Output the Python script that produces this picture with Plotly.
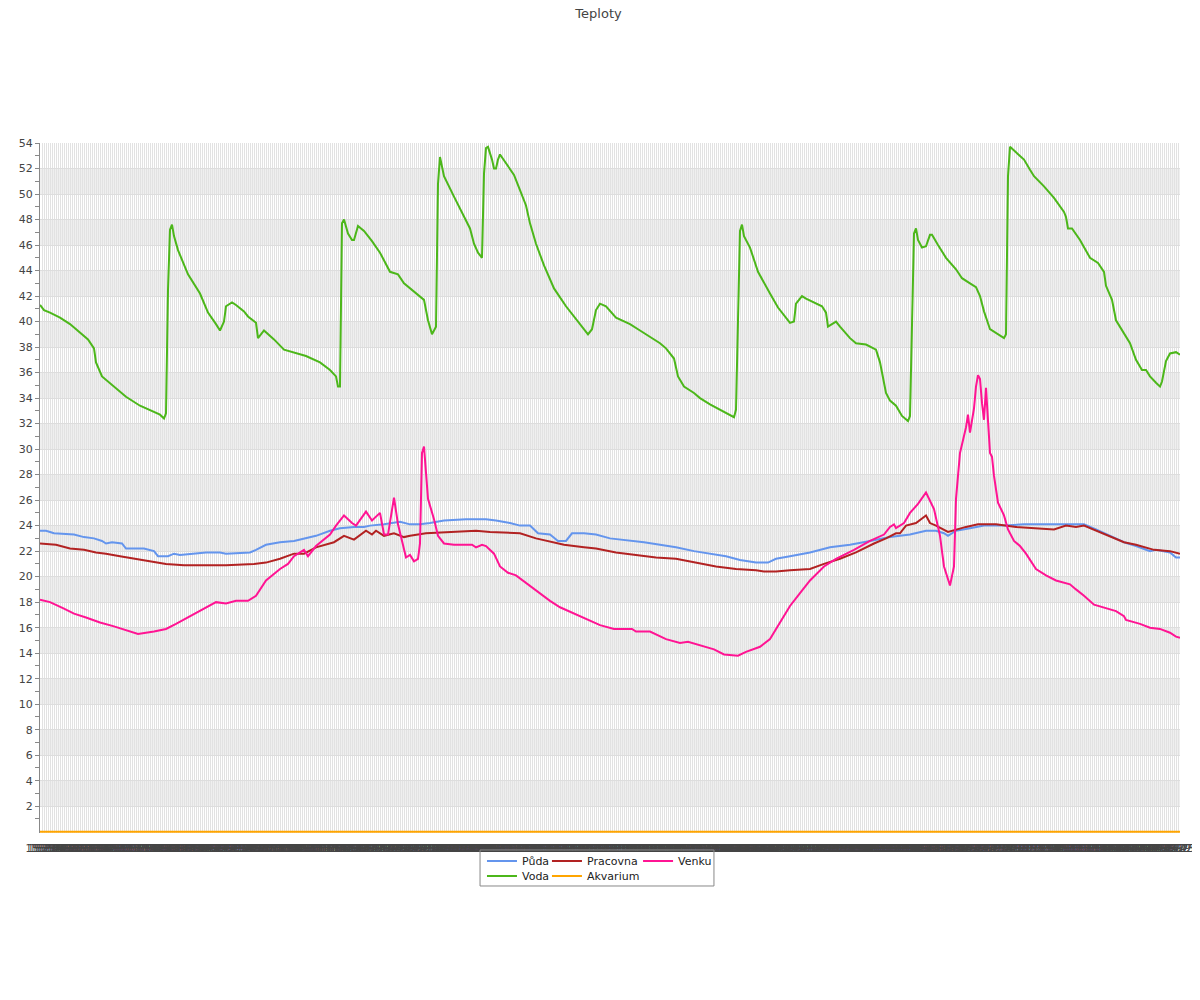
import plotly.graph_objects as go
import pandas as pd

# ---------------- data ----------------
time_labels = list(pd.date_range("2016-05-01 15:25", "2016-05-02 15:25", periods=571).strftime("%H:%M"))
sample_idx = list(range(len(time_labels)))

y_tick_vals = list(range(2, 55, 2))
y_minor_vals = list(range(1, 54, 2))
band_starts = list(range(2, 52, 4))

puda_x = [0, 3, 7, 17, 22, 27, 31, 33, 36, 41, 43, 52, 57, 59, 64, 67, 70, 77, 83, 90, 93, 105, 108, 113,
          120, 127, 132, 138, 145, 150, 157, 162, 165, 172, 180, 185, 190, 195, 202, 213, 223, 228, 235,
          240, 245, 249, 255, 259, 263, 266, 272, 278, 285, 292, 302, 310, 318, 327, 335, 343, 350, 358,
          364, 368, 375, 385, 395, 405, 415, 425, 435, 443, 448, 452, 454, 458, 465, 472, 482, 492, 508,
          522, 528, 535, 542, 548, 555, 558, 565, 568, 570]
puda_y = [23.6, 23.6, 23.4, 23.3, 23.1, 23.0, 22.8, 22.6, 22.7, 22.6, 22.2, 22.2, 22.0, 21.6, 21.6, 21.8,
          21.7, 21.8, 21.9, 21.9, 21.8, 21.9, 22.1, 22.5, 22.7, 22.8, 23.0, 23.2, 23.6, 23.8, 23.9, 23.9,
          24.0, 24.1, 24.3, 24.1, 24.1, 24.2, 24.4, 24.5, 24.5, 24.4, 24.2, 24.0, 24.0, 23.4, 23.3, 22.8,
          22.8, 23.4, 23.4, 23.3, 23.0, 22.9, 22.7, 22.5, 22.3, 22.0, 21.8, 21.6, 21.3, 21.1, 21.1, 21.4,
          21.6, 21.9, 22.3, 22.5, 22.8, 23.1, 23.3, 23.6, 23.6, 23.4, 23.2, 23.6, 23.8, 24.0, 24.0, 24.1,
          24.1, 24.1, 23.7, 23.2, 22.7, 22.4, 22.0, 22.1, 21.9, 21.5, 21.5]

pracovna_x = [0, 8, 15, 22, 28, 33, 40, 48, 57, 63, 72, 83, 93, 107, 113, 120, 127, 132, 138, 147, 152,
              157, 163, 166, 168, 172, 177, 182, 185, 193, 205, 218, 225, 240, 248, 257, 262, 272, 278,
              288, 298, 308, 318, 328, 338, 348, 358, 362, 368, 375, 385, 392, 400, 408, 417, 423, 428,
              430, 433, 438, 443, 445, 448, 454, 458, 463, 469, 478, 488, 498, 507, 513, 518, 522, 528,
              537, 542, 548, 557, 565, 570]
pracovna_y = [22.6, 22.5, 22.2, 22.1, 21.9, 21.8, 21.6, 21.4, 21.2, 21.0, 20.9, 20.9, 20.9, 21.0, 21.1,
              21.4, 21.8, 21.8, 22.3, 22.7, 23.2, 22.9, 23.6, 23.3, 23.6, 23.2, 23.4, 23.1, 23.2, 23.4,
              23.5, 23.6, 23.5, 23.4, 23.0, 22.7, 22.5, 22.3, 22.2, 21.9, 21.7, 21.5, 21.4, 21.1, 20.8,
              20.6, 20.5, 20.4, 20.4, 20.5, 20.6, 21.0, 21.4, 21.9, 22.6, 23.0, 23.4, 23.4, 24.0, 24.2,
              24.8, 24.2, 24.0, 23.5, 23.7, 23.9, 24.1, 24.1, 23.9, 23.8, 23.7, 24.0, 23.9, 24.0, 23.6,
              23.0, 22.7, 22.5, 22.1, 22.0, 21.8]

venku_x = [0, 5, 12, 17, 23, 30, 37, 43, 49, 57, 63, 68, 75, 82, 88, 93, 98, 104, 108, 113, 118, 120, 124,
           127, 132, 134, 138, 145, 148, 152, 156, 158, 163, 166, 170, 172, 174, 177, 179, 183, 185, 187,
           189, 190, 191, 192, 194, 197, 199, 202, 207, 216, 218, 221, 223, 227, 230, 234, 238, 243, 249,
           255, 260, 267, 273, 280, 287, 296, 298, 305, 313, 320, 324, 332, 337, 342, 349, 353, 360, 365,
           368, 372, 375, 380, 385, 392, 398, 407, 415, 422, 425, 427, 428, 432, 435, 439, 443, 447, 450,
           452, 455, 457, 458, 460, 462, 463, 464, 465, 467, 468, 469, 470, 471, 472, 473, 474, 475, 476,
           477, 479, 482, 484, 487, 490, 493, 498, 503, 508, 515, 518, 522, 527, 533, 538, 542, 543, 550,
           555, 560, 565, 568, 570]
venku_y = [18.2, 18.0, 17.5, 17.1, 16.8, 16.4, 16.1, 15.8, 15.5, 15.7, 15.9, 16.3, 16.9, 17.5, 18.0, 17.9,
           18.1, 18.1, 18.5, 19.7, 20.3, 20.6, 21.0, 21.6, 22.1, 21.6, 22.4, 23.3, 24.0, 24.8, 24.2, 24.0,
           25.1, 24.4, 25.0, 23.3, 23.3, 26.2, 24.1, 21.5, 21.7, 21.2, 21.4, 22.6, 29.7, 30.2, 26.1, 24.5,
           23.2, 22.6, 22.5, 22.5, 22.3, 22.5, 22.4, 21.8, 20.8, 20.3, 20.1, 19.5, 18.8, 18.1, 17.6, 17.1,
           16.7, 16.2, 15.9, 15.9, 15.7, 15.7, 15.1, 14.8, 14.9, 14.5, 14.3, 13.9, 13.8, 14.1, 14.5, 15.1,
           15.9, 16.9, 17.7, 18.7, 19.7, 20.8, 21.4, 22.1, 22.8, 23.3, 23.9, 24.1, 23.8, 24.2, 25.0, 25.7,
           26.6, 25.3, 23.2, 20.8, 19.3, 20.8, 26.1, 29.7, 31.1, 31.7, 32.7, 31.3, 33.2, 34.9, 35.8, 35.5,
           33.6, 32.3, 34.8, 31.8, 29.7, 29.4, 27.9, 25.8, 24.8, 23.7, 22.8, 22.4, 21.8, 20.6, 20.1, 19.7,
           19.4, 19.0, 18.5, 17.8, 17.5, 17.3, 16.9, 16.6, 16.3, 16.0, 15.9, 15.6, 15.3, 15.2]

voda_x = [0, 2, 5, 10, 15, 20, 24, 27, 28, 31, 34, 39, 43, 50, 56, 60, 62, 63, 64, 65, 66, 67, 69, 74, 80,
          84, 88, 90, 92, 93, 96, 98, 102, 104, 108, 109, 112, 117, 122, 127, 133, 140, 145, 148, 149, 150,
          151, 152, 154, 156, 157, 159, 162, 166, 170, 175, 179, 182, 185, 188, 192, 194, 196, 198, 199,
          200, 202, 207, 212, 215, 217, 219, 221, 222, 223, 224, 226, 227, 228, 229, 230, 233, 237, 240,
          243, 245, 248, 252, 257, 263, 267, 271, 274, 276, 278, 280, 283, 288, 295, 300, 305, 310, 313,
          317, 319, 322, 327, 330, 335, 341, 346, 347, 348, 350, 351, 352, 355, 359, 365, 369, 375, 377,
          378, 381, 383, 387, 391, 393, 394, 398, 400, 405, 408, 413, 418, 420, 423, 425, 428, 431, 434,
          435, 436, 437, 438, 439, 441, 443, 445, 446, 449, 453, 458, 461, 465, 468, 470, 472, 475, 478,
          482, 483, 484, 485, 488, 492, 495, 497, 502, 507, 512, 513, 514, 516, 520, 525, 529, 532, 533,
          536, 538, 542, 545, 548, 551, 553, 555, 558, 560, 561, 563, 565, 568, 570]
voda_y = [41.3, 40.9, 40.7, 40.3, 39.8, 39.1, 38.6, 37.9, 36.8, 35.7, 35.3, 34.6, 34.1, 33.4, 33.0, 32.7,
          32.4, 32.8, 42.5, 47.2, 47.6, 46.7, 45.6, 43.7, 42.2, 40.7, 39.8, 39.3, 40.0, 41.2, 41.5, 41.3,
          40.8, 40.4, 39.9, 38.7, 39.3, 38.6, 37.8, 37.6, 37.3, 36.8, 36.2, 35.7, 34.9, 34.9, 47.7, 48.0,
          46.9, 46.4, 46.4, 47.5, 47.1, 46.3, 45.4, 43.9, 43.7, 43.0, 42.6, 42.2, 41.7, 40.1, 39.0, 39.6,
          50.8, 52.9, 51.4, 49.8, 48.2, 47.3, 46.1, 45.4, 45.0, 51.6, 53.6, 53.7, 52.7, 52.0, 52.0, 52.7,
          53.1, 52.4, 51.5, 50.3, 49.1, 47.7, 46.1, 44.4, 42.6, 41.2, 40.4, 39.6, 39.0, 39.4, 40.9, 41.4,
          41.2, 40.3, 39.8, 39.3, 38.8, 38.3, 37.9, 37.1, 35.7, 34.9, 34.4, 34.0, 33.5, 33.0, 32.6, 32.5,
          33.1, 47.1, 47.6, 46.7, 45.8, 43.9, 42.2, 41.1, 39.9, 40.0, 41.4, 42.0, 41.8, 41.5, 41.2, 40.7,
          39.6, 40.0, 39.6, 38.7, 38.3, 38.2, 37.8, 36.8, 34.4, 33.8, 33.4, 32.6, 32.2, 32.6, 41.2, 46.9,
          47.3, 46.4, 45.8, 45.9, 46.8, 46.8, 46.0, 45.0, 44.1, 43.4, 43.0, 42.7, 42.0, 40.8, 39.4, 39.1,
          38.7, 39.0, 51.4, 53.7, 53.3, 52.7, 51.9, 51.4, 50.6, 49.7, 48.6, 48.2, 47.3, 47.3, 46.4, 45.0,
          44.6, 43.9, 42.8, 41.7, 40.1, 39.1, 38.3, 37.0, 36.2, 36.2, 35.7, 35.2, 34.9, 35.3, 36.9, 37.5,
          37.6, 37.4]

akvarium_x = [0, 570]
akvarium_y = [0.0, 0.0]

# ---------------- figure ----------------
FONT = "DejaVu Sans"
fig = go.Figure()

series = [
    ("Půda", puda_x, puda_y, "#6495ED", "legend"),
    ("Pracovna", pracovna_x, pracovna_y, "#B22222", "legend2"),
    ("Venku", venku_x, venku_y, "#FF1493", "legend3"),
    ("Voda", voda_x, voda_y, "#4CB71A", "legend4"),
    ("Akvarium", akvarium_x, akvarium_y, "#FFA500", "legend5"),
]
for name, xs, ys, col, leg in series:
    fig.add_trace(go.Scatter(x=xs, y=ys, mode="lines", name=name,
                             line=dict(color=col, width=2), legend=leg, hoverinfo="skip"))

for b in band_starts:
    fig.add_shape(type="rect", xref="paper", yref="y", x0=0, x1=1, y0=b, y1=b + 2,
                  fillcolor="#efefef", line=dict(width=0), layer="below")

# legend frame
fig.add_shape(type="rect", xref="paper", yref="paper", x0=0.386, x1=0.5912, y0=-0.0246, y1=-0.0768,
              line=dict(color="#888888", width=1), fillcolor="rgba(0,0,0,0)")


def leg(x, y):
    return dict(x=x, y=y, xanchor="left", yanchor="middle", orientation="v",
                bgcolor="rgba(0,0,0,0)", borderwidth=0,
                font=dict(family=FONT, size=11, color="#222222"))


fig.update_layout(
    width=1200, height=1000,
    margin=dict(l=32, r=28, t=135, b=175, autoexpand=False),
    paper_bgcolor="white", plot_bgcolor="white",
    font=dict(family=FONT, size=11, color="#444444"),
    title=dict(text="Teploty", x=0.4921, xref="container", xanchor="center",
               y=0.995, yref="container", yanchor="middle",
               font=dict(family=FONT, size=13, color="#444444")),
    showlegend=True,
    legend=leg(0.3877, -0.0406),
    legend2=leg(0.4447, -0.0406),
    legend3=leg(0.5246, -0.0406),
    legend4=leg(0.3877, -0.0623),
    legend5=leg(0.4447, -0.0623),
    xaxis=dict(range=[0, 570], tickmode="array", tickvals=sample_idx, ticktext=time_labels,
               tickangle=0, ticks="", showgrid=True, gridcolor="#e2e2e2", gridwidth=1,
               zeroline=False, showline=False, automargin=False, ticklabelstandoff=8,
               tickfont=dict(family=FONT, size=10, color="#444444")),
    yaxis=dict(range=[-0.1, 54], tickmode="array", tickvals=y_tick_vals,
               ticks="outside", ticklen=4, tickcolor="#888888", automargin=False,
               showgrid=True, gridcolor="#dddddd", gridwidth=1,
               zeroline=False, showline=True, linecolor="#888888", linewidth=1,
               minor=dict(tickvals=y_minor_vals, ticks="outside", ticklen=4, tickcolor="#888888",
                          showgrid=False),
               tickfont=dict(family=FONT, size=11, color="#444444")),
)

fig.write_html("out.html")
